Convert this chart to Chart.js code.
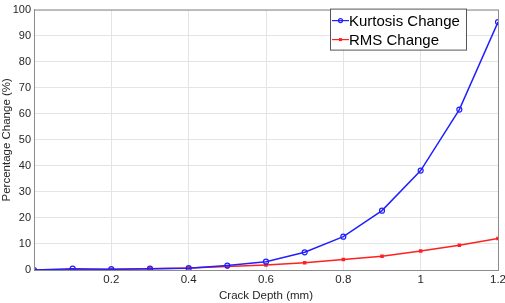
<!DOCTYPE html>
<html>
<head>
<meta charset="utf-8">
<script src="https://cdn.jsdelivr.net/npm/chart.js@4/dist/chart.umd.min.js"></script>
<style>
  html, body { margin: 0; padding: 0; background: #fff; }
  #wrap { width: 505px; height: 303px; }
</style>
</head>
<body>
<div id="wrap"><canvas id="grafico"></canvas></div>
<script>
// Datos
const profundidad = [0, 0.1, 0.2, 0.3, 0.4, 0.5, 0.6, 0.7, 0.8, 0.9, 1.0, 1.1, 1.2];
const cambioKurtosis = [0, 0.5, 0.3, 0.5, 0.7, 1.7, 3.2, 6.8, 12.8, 22.8, 38.2, 61.6, 95.2];
const cambioRMS = [0, 0.1, 0.2, 0.5, 0.8, 1.3, 1.9, 2.8, 4.0, 5.3, 7.3, 9.5, 12.1];
const ticksY = [0, 10, 20, 30, 40, 50, 60, 70, 80, 90, 100];
const etiquetas = ['Kurtosis Change', 'RMS Change'];

const FUENTE = "'Liberation Sans', Arial, sans-serif";

// Marco del area de grafico y leyenda dentro
const marcoYLeyenda = {
  id: 'marcoYLeyenda',
  afterDraw(chart) {
    const { ctx, chartArea: a } = chart;
    ctx.save();
    ctx.strokeStyle = '#8c8c8c';
    ctx.lineWidth = 1;
    ctx.strokeRect(a.left + 0.5, a.top + 0.5, a.right - a.left, a.bottom - a.top);

    // Leyenda
    const x0 = a.right - 168, y0 = a.top - 1, w = 136, h = 41;
    ctx.fillStyle = '#fff';
    ctx.fillRect(x0, y0, w, h);
    ctx.strokeStyle = '#555';
    ctx.strokeRect(x0 + 0.5, y0 + 0.5, w, h);
    ctx.font = '15px ' + FUENTE;
    ctx.textBaseline = 'middle';
    chart.data.datasets.forEach((ds, i) => {
      const y = y0 + 12 + i * 19;
      ctx.strokeStyle = ds.borderColor;
      ctx.lineWidth = 1.2;
      ctx.beginPath();
      ctx.moveTo(x0 + 2, y);
      ctx.lineTo(x0 + 19, y);
      ctx.stroke();
      if (ds.pointStyle === 'rect') {
        ctx.fillStyle = ds.borderColor;
        ctx.fillRect(x0 + 9, y - 1.5, 3, 3);
      } else {
        ctx.beginPath();
        ctx.arc(x0 + 10.5, y, 2, 0, Math.PI * 2);
        ctx.stroke();
      }
      ctx.fillStyle = '#000';
      ctx.fillText(ds.label, x0 + 19, y + 1);
    });
    ctx.restore();
  }
};

new Chart(document.getElementById('grafico'), {
  type: 'line',
  data: {
    datasets: [
      {
        label: etiquetas[0],
        data: profundidad.map((x, i) => ({ x, y: cambioKurtosis[i] })),
        borderColor: '#2020ff',
        backgroundColor: 'rgba(0,0,0,0)',
        borderWidth: 1.5,
        pointStyle: 'circle',
        pointRadius: 2.5,
        pointBorderWidth: 1.2,
        tension: 0
      },
      {
        label: etiquetas[1],
        data: profundidad.map((x, i) => ({ x, y: cambioRMS[i] })),
        borderColor: '#ff2020',
        backgroundColor: '#ff2020',
        borderWidth: 1.5,
        pointStyle: 'rect',
        pointRadius: 2.5,
        pointBorderWidth: 0,
        tension: 0
      }
    ]
  },
  options: {
    responsive: true,
    maintainAspectRatio: false,
    animation: false,
    layout: { padding: { top: 5, right: 7, left: 0, bottom: 0 } },
    plugins: {
      legend: { display: false },
      tooltip: { enabled: false }
    },
    scales: {
      x: {
        type: 'linear',
        min: 0,
        max: 1.2,
        afterFit: (s) => { s.height = 33; s.paddingRight = 0; s.paddingLeft = 0; },
        ticks: {
          stepSize: 0.2,
          color: '#262626',
          font: { family: FUENTE, size: 11.5 },
          padding: 3,
          maxRotation: 0,
          callback: (v) => v === 0 ? '' : String(Math.round(v * 10) / 10)
        },
        grid: { color: '#e4e4e4', drawTicks: false },
        border: { color: '#8c8c8c' },
        title: {
          display: true,
          text: 'Crack Depth (mm)',
          color: '#262626',
          font: { family: FUENTE, size: 11.5 },
          padding: { top: 1, bottom: 0 }
        }
      },
      y: {
        min: 0,
        max: 100,
        afterFit: (s) => { s.width = 34; },
        afterBuildTicks: (s) => { s.ticks = ticksY.map(v => ({ value: v })); },
        ticks: {
          color: '#262626',
          font: { family: FUENTE, size: 11 },
          padding: 3
        },
        grid: { color: '#e4e4e4', drawTicks: false },
        border: { color: '#8c8c8c' },
        title: {
          display: true,
          text: 'Percentage Change (%)',
          color: '#262626',
          font: { family: FUENTE, size: 11.5 },
          padding: { top: 0, bottom: 0 }
        }
      }
    }
  },
  plugins: [marcoYLeyenda]
});
</script>
</body>
</html>
